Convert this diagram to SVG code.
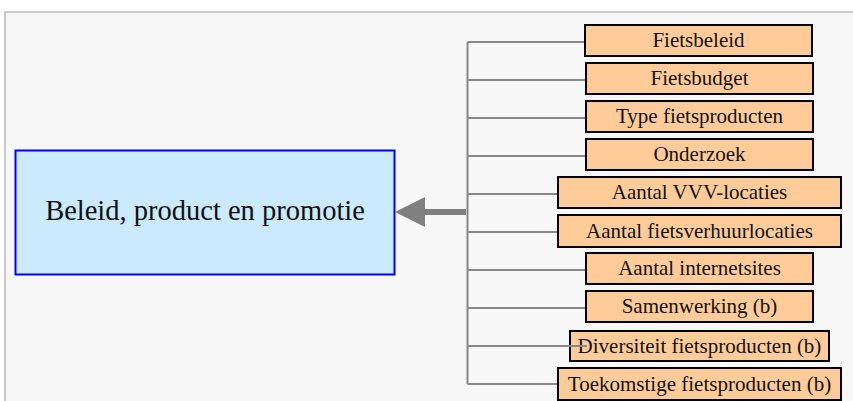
<svg xmlns="http://www.w3.org/2000/svg" width="853" height="401" viewBox="0 0 853 401">
<style>
.leaf rect{fill:#ffcc99;stroke:#000;stroke-width:2}
.leaf text{font-family:"Liberation Serif","Times New Roman",serif;font-size:21px;fill:#111;text-anchor:middle}
.conn line{stroke:#888;stroke-width:2;fill:none}
</style>
<rect x="5" y="12" width="860" height="400" fill="#f7f7f7" stroke="#c8c8c8" stroke-width="2"/>
<g id="connectors" class="conn">
<line x1="467.5" y1="42" x2="467.5" y2="384"/>
<line x1="467.5" y1="42" x2="585" y2="42"/>
<line x1="467.5" y1="80" x2="586" y2="80"/>
<line x1="467.5" y1="118" x2="586" y2="118"/>
<line x1="467.5" y1="156" x2="586" y2="156"/>
<line x1="467.5" y1="194" x2="558" y2="194"/>
<line x1="467.5" y1="232" x2="558" y2="232"/>
<line x1="467.5" y1="270" x2="586" y2="270"/>
<line x1="467.5" y1="308" x2="586" y2="308"/>
<line x1="467.5" y1="384" x2="558" y2="384"/>
<line x1="466" y1="212" x2="423" y2="212" style="stroke:#808080;stroke-width:6"/>
<polygon points="395,212 425,197 425,227" fill="#808080"/>
</g>
<g id="main">
<rect x="15.5" y="150.5" width="379" height="124" fill="#cbeafd" stroke="#0000ff" stroke-width="2"/>
<text x="205" y="220" font-family="Liberation Serif, Times New Roman, serif" font-size="28.5" fill="#111" text-anchor="middle">Beleid, product en promotie</text>
</g>
<g id="n1" class="leaf"><rect x="585" y="25" width="227" height="31"/><text x="698.5" y="47">Fietsbeleid</text></g>
<g id="n2" class="leaf"><rect x="586" y="63" width="227" height="31"/><text x="699.5" y="85">Fietsbudget</text></g>
<g id="n3" class="leaf"><rect x="586" y="101" width="227" height="31"/><text x="699.5" y="123">Type fietsproducten</text></g>
<g id="n4" class="leaf"><rect x="586" y="139" width="227" height="31"/><text x="699.5" y="161">Onderzoek</text></g>
<g id="n5" class="leaf"><rect x="558" y="177" width="283" height="31"/><text x="699.5" y="199">Aantal VVV-locaties</text></g>
<g id="n6" class="leaf"><rect x="558" y="215" width="283" height="32"/><text x="699.5" y="238">Aantal fietsverhuurlocaties</text></g>
<g id="n7" class="leaf"><rect x="586" y="253" width="227" height="31"/><text x="699.5" y="275">Aantal internetsites</text></g>
<g id="n8" class="leaf"><rect x="586" y="291" width="227" height="31"/><text x="699.5" y="313">Samenwerking (b)</text></g>
<g id="n9" class="leaf"><rect x="570" y="331" width="259" height="30"/><text x="699.5" y="353">Diversiteit fietsproducten (b)</text></g>
<g id="n10" class="leaf"><rect x="558" y="368" width="283" height="32"/><text x="699.5" y="391">Toekomstige fietsproducten (b)</text></g>
<g id="connector-overlap" class="conn"><line x1="558" y1="346" x2="587" y2="346"/><line x1="467.5" y1="346" x2="570" y2="346"/></g>
</svg>
